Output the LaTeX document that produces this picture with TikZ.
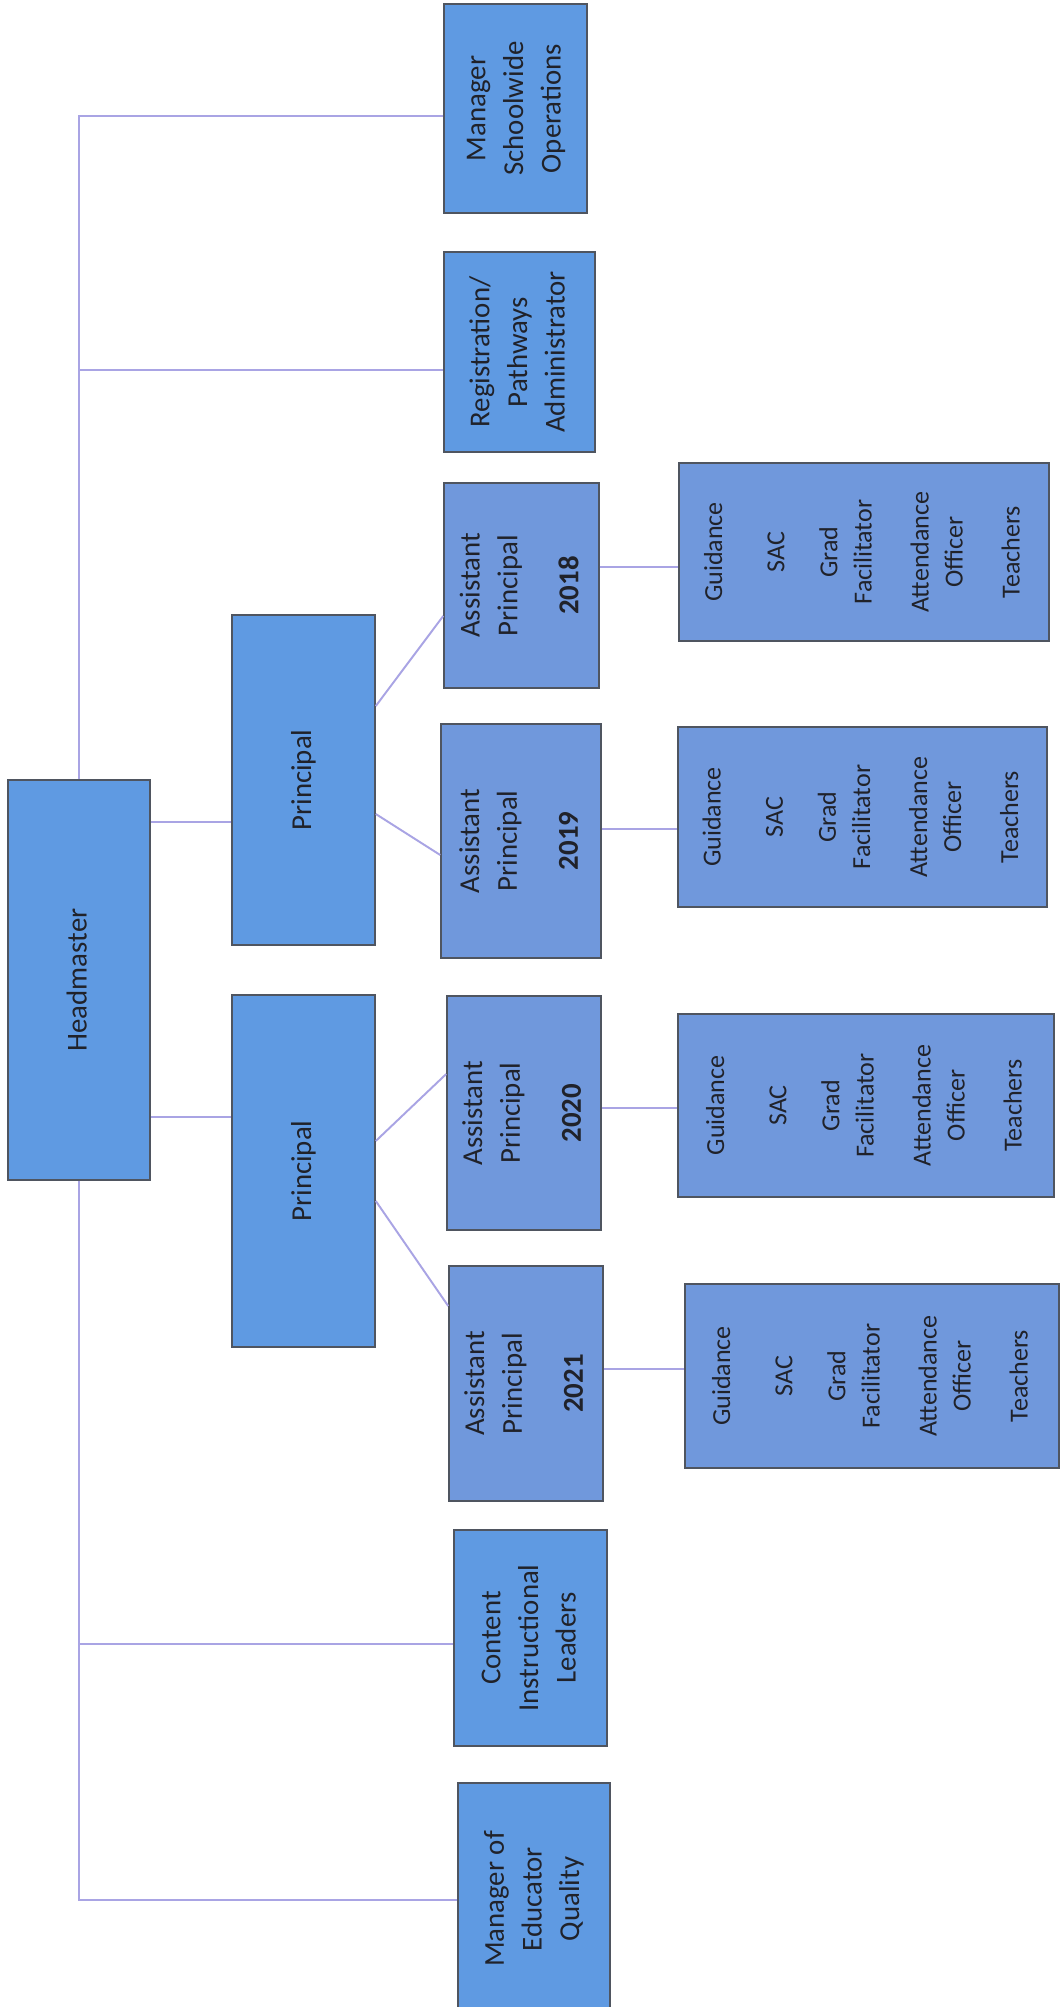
\documentclass[tikz,border=0pt]{standalone}
\usepackage{fontspec}
\setmainfont{Carlito}
\usepackage{graphicx}
\definecolor{boxblue}{HTML}{5F9AE2}
\definecolor{boxblueb}{HTML}{7098DC}
\definecolor{lineviolet}{HTML}{A9A4E4}
\definecolor{edgegray}{HTML}{4F5560}
\definecolor{txt}{HTML}{20222A}
\newcommand{\rtxt}[1]{\rotatebox{90}{\begin{tabular}{@{}c@{}}#1\end{tabular}}}
\begin{document}
\begin{tikzpicture}[x=0.01cm,y=-0.01cm,
  orgbox/.style 2 args={draw=edgegray, line width=0.45pt, fill=boxblue, inner sep=0pt,
    minimum width=#1*0.01cm, minimum height=#2*0.01cm, text=txt,
    font=\fontsize{8.2}{10.7}\selectfont},
  apbox/.style 2 args={orgbox={#1}{#2}, fill=boxblueb},
  gbox/.style 2 args={orgbox={#1}{#2}, fill=boxblueb, font=\fontsize{7.4}{9.7}\selectfont},
  conn/.style={draw=lineviolet, line width=0.55pt}]
\useasboundingbox (0,0) rectangle (1063,2007);
\fill[white] (0,0) rectangle (1063,2007);

% boxes
\node[orgbox={142}{400}] (hm) at (79,980) {\rtxt{Headmaster}};
\node[orgbox={143}{330}] (p1) at (303.5,780) {\rtxt{Principal}};
\node[orgbox={143}{352}] (p2) at (303.5,1171) {\rtxt{Principal}};
\node[orgbox={143}{209}] (mso) at (515.5,108.5) {\rtxt{Manager\\Schoolwide\\Operations}};
\node[orgbox={151}{200}] (reg) at (519.5,352) {\rtxt{Registration/\\Pathways\\Administrator}};
\node[apbox={155}{205}] (ap18) at (521.5,585.5) {\rtxt{Assistant\\Principal\\[6.7pt]\textbf{2018}}};
\node[apbox={160}{234}] (ap19) at (521,841) {\rtxt{Assistant\\Principal\\[6.7pt]\textbf{2019}}};
\node[apbox={154}{234}] (ap20) at (524,1113) {\rtxt{Assistant\\Principal\\[6.7pt]\textbf{2020}}};
\node[apbox={154}{235}] (ap21) at (526,1383.5) {\rtxt{Assistant\\Principal\\[6.7pt]\textbf{2021}}};
\node[orgbox={153}{216}] (cil) at (530.5,1638) {\rtxt{Content\\Instructional\\Leaders}};
\node[orgbox={152}{232}] (meq) at (534,1899) {\rtxt{Manager of\\Educator\\Quality}};

\node[gbox={370}{178}] (g18) at (864,552) {\rtxt{Guidance\\[8pt]SAC\\[5.4pt]Grad\\Facilitator\\[6.5pt]Attendance\\Officer\\[6.5pt]Teachers}};
\node[gbox={369}{180}] (g19) at (862.5,817) {\rtxt{Guidance\\[8pt]SAC\\[5.4pt]Grad\\Facilitator\\[6.5pt]Attendance\\Officer\\[6.5pt]Teachers}};
\node[gbox={376}{183}] (g20) at (866,1105.5) {\rtxt{Guidance\\[8pt]SAC\\[5.4pt]Grad\\Facilitator\\[6.5pt]Attendance\\Officer\\[6.5pt]Teachers}};
\node[gbox={374}{184}] (g21) at (872,1376) {\rtxt{Guidance\\[8pt]SAC\\[5.4pt]Grad\\Facilitator\\[6.5pt]Attendance\\Officer\\[6.5pt]Teachers}};

% connector heights
\coordinate (y116) at (0,116);
\coordinate (y370) at (0,370);
\coordinate (y1644) at (0,1644);
\coordinate (y1900) at (0,1900);
\coordinate (y822) at (0,822);
\coordinate (y1117) at (0,1117);
\coordinate (y706) at (0,706);
\coordinate (y616) at (0,616);
\coordinate (y814) at (0,814);
\coordinate (y855) at (0,855);
\coordinate (y1141) at (0,1141);
\coordinate (y1074) at (0,1074);
\coordinate (y1201) at (0,1201);
\coordinate (y1306) at (0,1306);
\coordinate (y567) at (0,567);
\coordinate (y829) at (0,829);
\coordinate (y1108) at (0,1108);
\coordinate (y1369) at (0,1369);

% connectors
\draw[conn] (hm.north) |- (mso.west |- y116);
\draw[conn] (hm.north) |- (reg.west |- y370);
\draw[conn] (hm.south) |- (cil.west |- y1644);
\draw[conn] (hm.south) |- (meq.west |- y1900);
\draw[conn] (hm.east |- y822) -- (p1.west |- y822);
\draw[conn] (hm.east |- y1117) -- (p2.west |- y1117);
\draw[conn] (p1.east |- y706) -- (ap18.west |- y616);
\draw[conn] (p1.east |- y814) -- (ap19.west |- y855);
\draw[conn] (p2.east |- y1141) -- (ap20.west |- y1074);
\draw[conn] (p2.east |- y1201) -- (ap21.west |- y1306);
\draw[conn] (ap18.east |- y567) -- (g18.west |- y567);
\draw[conn] (ap19.east |- y829) -- (g19.west |- y829);
\draw[conn] (ap20.east |- y1108) -- (g20.west |- y1108);
\draw[conn] (ap21.east |- y1369) -- (g21.west |- y1369);
\end{tikzpicture}
\end{document}
